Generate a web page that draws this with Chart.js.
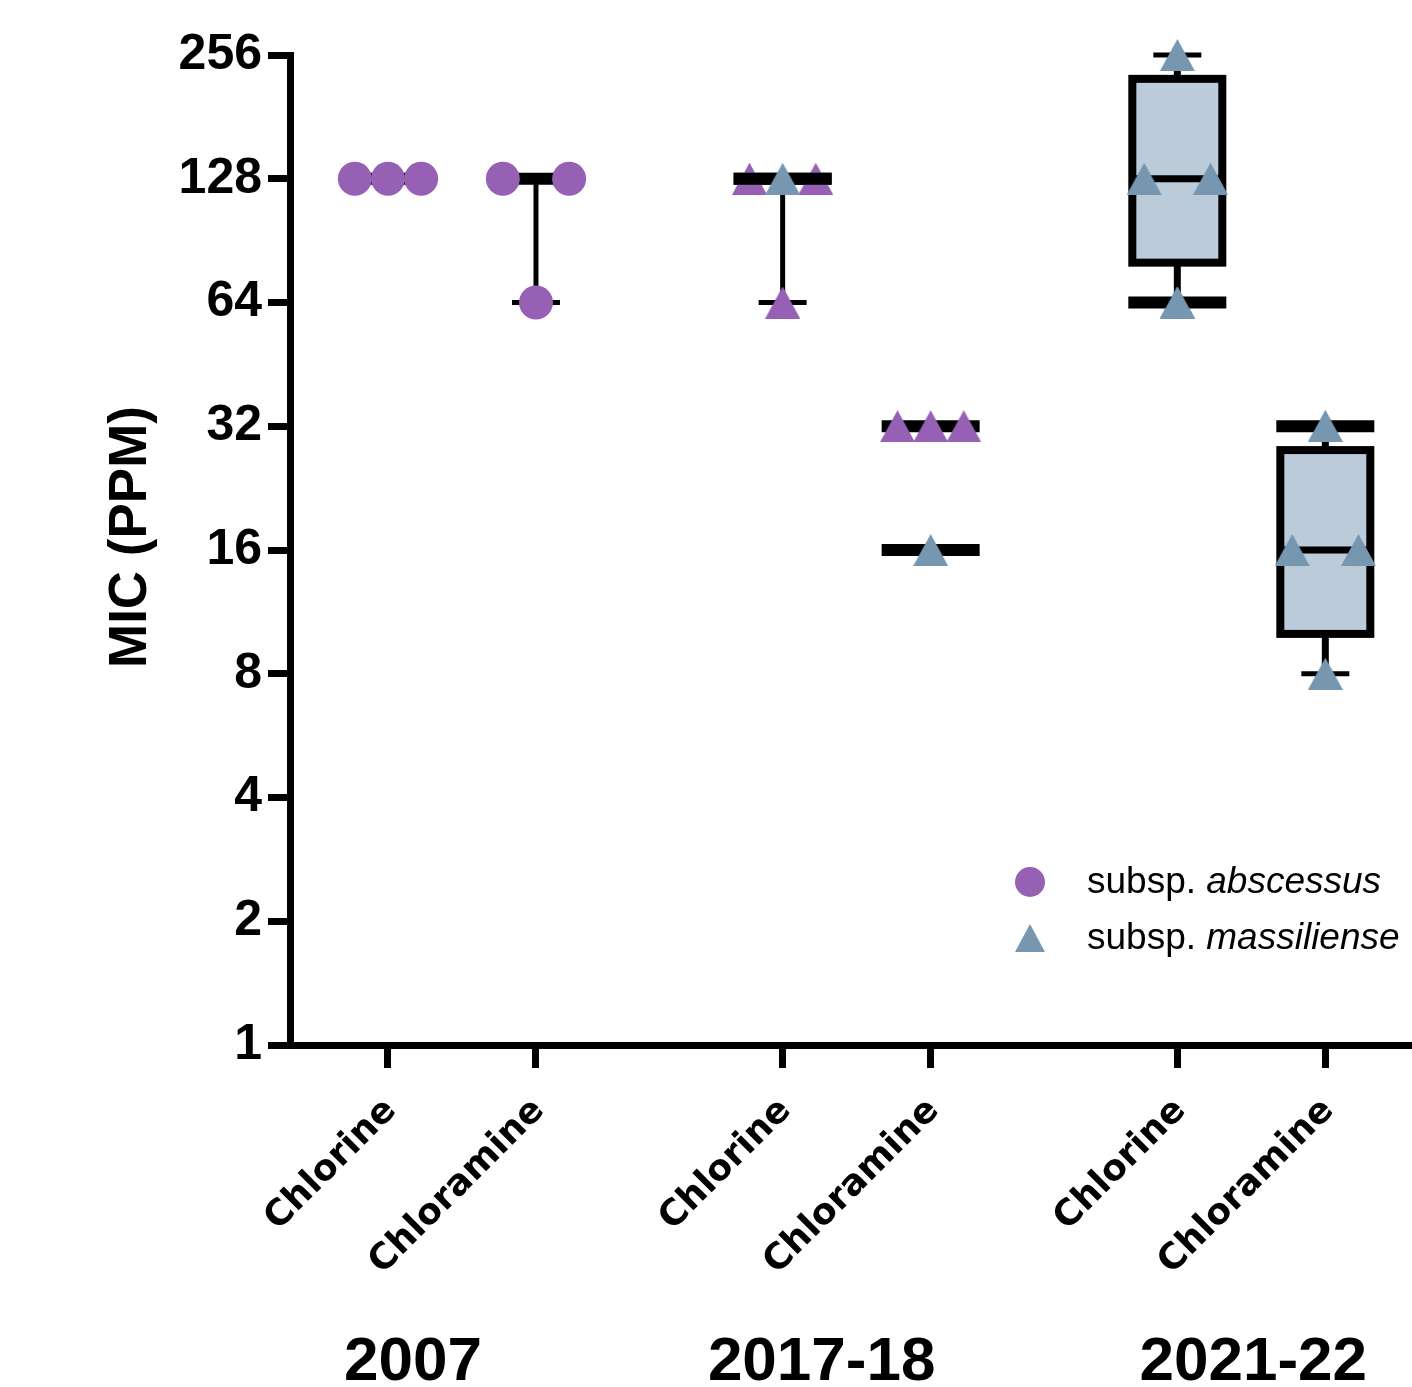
<!DOCTYPE html>
<html>
<head>
<meta charset="utf-8">
<script src="https://cdn.jsdelivr.net/npm/chart.js@4.4.1/dist/chart.umd.min.js"></script>
<style>
  html, body { margin: 0; padding: 0; background: #ffffff; }
  canvas { display: block; }
</style>
</head>
<body>
<canvas id="mic" width="1412" height="1387"></canvas>
<script>
// ---- categories and tick labels ----
const groups = ['2007', '2017-18', '2021-22'];
const treatments = ['Chlorine', 'Chloramine'];
const yTicks = [1, 2, 4, 8, 16, 32, 64, 128, 256];
const subspecies = ['abscessus', 'massiliense'];

// ---- MIC values (ppm), one array per isolate set ----
const mic2007ChlorineAbs = [128, 128, 128];
const mic2007ChloramineAbs = [128, 64, 128];
const mic2017ChlorineAbs = [128, 128, 64];
const mic2017ChlorineMas = [128];
const mic2017ChloramineAbs = [32, 32, 32];
const mic2017ChloramineMas = [16];
const mic2021ChlorineMas = [256, 128, 128, 64];
const mic2021ChlorineMasSingle = [64];
const mic2021ChloramineMas = [32, 16, 16, 8];
const mic2021ChloramineMasSingle = [32];

// isolate sets: group index, treatment index, subspecies index, summary type
const series = [
  { g: 0, t: 0, sp: 0, values: mic2007ChlorineAbs, summary: 'median' },
  { g: 0, t: 1, sp: 0, values: mic2007ChloramineAbs, summary: 'median' },
  { g: 1, t: 0, sp: 0, values: mic2017ChlorineAbs, summary: 'median' },
  { g: 1, t: 0, sp: 1, values: mic2017ChlorineMas, summary: 'median' },
  { g: 1, t: 1, sp: 0, values: mic2017ChloramineAbs, summary: 'median' },
  { g: 1, t: 1, sp: 1, values: mic2017ChloramineMas, summary: 'median' },
  { g: 2, t: 0, sp: 1, values: mic2021ChlorineMas, summary: 'box' },
  { g: 2, t: 0, sp: 1, values: mic2021ChlorineMasSingle, summary: 'median' },
  { g: 2, t: 1, sp: 1, values: mic2021ChloramineMas, summary: 'box' },
  { g: 2, t: 1, sp: 1, values: mic2021ChloramineMasSingle, summary: 'median' }
];

// ---- styling / layout ----
const FONT = "'Liberation Sans', Arial, Helvetica, sans-serif";
const LABEL_FONT = "'DejaVu Sans', Verdana, sans-serif";
const COLORS = ['#9660b4', '#7797b1'];
const BOX_FILL = '#bccbd9';
const GROUP_MARKER = ['circle', 'triangle', 'triangle'];
const GROUP_STEP = 8 / 3;          // x distance between year groups
const JITTER = 0.224;              // x offset between tied points
const GROUP_LABEL_NUDGE = [-49, -35, 2];
const AXIS_W = 7;

const colX = (g, t) => g * GROUP_STEP + t;
const columnX = [];
groups.forEach((_, g) => treatments.forEach((_, t) => columnX.push(colX(g, t))));

// triangle marker, centred on its bounding box
function makeTriangle(w, h, color) {
  const c = document.createElement('canvas');
  c.width = w; c.height = h;
  const x = c.getContext('2d');
  x.fillStyle = color;
  x.beginPath();
  x.moveTo(w / 2, 0);
  x.lineTo(w, h);
  x.lineTo(0, h);
  x.closePath();
  x.fill();
  return c;
}
const triangles = COLORS.map(c => makeTriangle(35, 32, c));

// spread tied values side by side
function jittered(values) {
  const counts = {}, seen = {};
  values.forEach(v => { counts[v] = (counts[v] || 0) + 1; });
  return values.map(v => {
    const n = counts[v];
    const k = seen[v] = (seen[v] || 0) + 1;
    let off;
    if (n === 1) off = 0;
    else if (n === 2) off = k === 1 ? -1 : 1;
    else off = (k - 1) - (n - 1) / 2;
    return off;
  });
}

// percentile on the (n+1) basis
function quantile(sorted, p) {
  const n = sorted.length;
  const pos = (n + 1) * p;
  if (pos <= 1) return sorted[0];
  if (pos >= n) return sorted[n - 1];
  const lo = Math.floor(pos), f = pos - lo;
  return sorted[lo - 1] + f * (sorted[lo] - sorted[lo - 1]);
}

const datasets = series.map((s, i) => {
  const offs = jittered(s.values);
  const marker = GROUP_MARKER[s.g];
  return {
    label: subspecies[s.sp],
    data: s.values.map((v, j) => ({ x: colX(s.g, s.t) + offs[j] * JITTER, y: v })),
    pointStyle: marker === 'circle' ? 'circle' : triangles[s.sp],
    pointRadius: 17,
    pointHoverRadius: 17,
    pointBackgroundColor: COLORS[s.sp],
    pointBorderWidth: 0,
    showLine: false,
    clip: false,
    order: -i
  };
});

function drawSummary(chart, s) {
  const ctx = chart.ctx;
  const xs = chart.scales.x, ys = chart.scales.y;
  const cx = xs.getPixelForValue(colX(s.g, s.t));
  const Y = v => ys.getPixelForValue(v);
  const v = [...s.values].sort((a, b) => a - b);
  const lo = v[0], hi = v[v.length - 1];
  ctx.save();
  ctx.strokeStyle = '#000';
  ctx.lineCap = 'butt';
  const hline = (val, half, w) => {
    ctx.lineWidth = w;
    ctx.beginPath();
    ctx.moveTo(cx - half, Y(val));
    ctx.lineTo(cx + half, Y(val));
    ctx.stroke();
  };
  const vline = (a, b, w) => {
    ctx.lineWidth = w;
    ctx.beginPath();
    ctx.moveTo(cx, Y(a));
    ctx.lineTo(cx, Y(b));
    ctx.stroke();
  };
  if (s.summary === 'median') {
    if (hi > lo) {
      vline(lo, hi, 5);
      hline(lo, 24, 5);
      hline(hi, 24, 5);
    }
    hline(quantile(v, 0.5), 49, 12);
  } else {
    const q1 = quantile(v, 0.25), q3 = quantile(v, 0.75), med = quantile(v, 0.5);
    vline(hi, q3, 7);
    vline(q1, lo, 7);
    hline(hi, 24, 5);
    hline(lo, 24, 5);
    const top = Y(q3), bot = Y(q1);
    ctx.fillStyle = BOX_FILL;
    ctx.fillRect(cx - 45, top, 90, bot - top);
    ctx.lineWidth = 8;
    ctx.strokeRect(cx - 45, top, 90, bot - top);
    hline(med, 45, 7);
  }
  ctx.restore();
}

function drawLegendMarker(ctx, kind, x, y, color) {
  ctx.fillStyle = color;
  ctx.beginPath();
  if (kind === 'circle') {
    ctx.arc(x, y, 15, 0, Math.PI * 2);
  } else {
    ctx.moveTo(x, y - 14);
    ctx.lineTo(x + 15, y + 14);
    ctx.lineTo(x - 15, y + 14);
    ctx.closePath();
  }
  ctx.fill();
}

const decorPlugin = {
  id: 'decor',
  beforeDatasetDraw(chart, args) {
    drawSummary(chart, series[args.index]);
  },
  afterDraw(chart) {
    const ctx = chart.ctx;
    const xs = chart.scales.x;
    const area = chart.chartArea;
    ctx.save();
    ctx.fillStyle = '#000';

    // axis title
    ctx.save();
    ctx.translate(131, 537);
    ctx.rotate(-Math.PI / 2);
    ctx.font = `bold 53px ${FONT}`;
    ctx.textAlign = 'center';
    ctx.textBaseline = 'middle';
    ctx.fillText('MIC (PPM)', 0, 0);
    ctx.restore();

    // treatment labels, rotated
    ctx.font = `bold 36px ${LABEL_FONT}`;
    groups.forEach((_, g) => treatments.forEach((name, t) => {
      const px = xs.getPixelForValue(colX(g, t));
      ctx.save();
      ctx.translate(px + 3, area.bottom + 60);
      ctx.rotate(-Math.PI / 4);
      ctx.textAlign = 'right';
      ctx.textBaseline = 'middle';
      ctx.fillText(name, 0, 0);
      ctx.restore();
    }));

    // year labels
    ctx.font = `bold 62px ${FONT}`;
    ctx.textAlign = 'center';
    ctx.textBaseline = 'alphabetic';
    groups.forEach((name, g) => {
      const mid = (xs.getPixelForValue(colX(g, 0)) + xs.getPixelForValue(colX(g, 1))) / 2;
      ctx.fillText(name, mid + GROUP_LABEL_NUDGE[g], 1380);
    });

    // legend
    const legendRows = [
      { kind: 'circle', color: COLORS[0], name: subspecies[0], y: 882 },
      { kind: 'triangle', color: COLORS[1], name: subspecies[1], y: 938 }
    ];
    ctx.textAlign = 'left';
    ctx.textBaseline = 'middle';
    legendRows.forEach(r => {
      drawLegendMarker(ctx, r.kind, 1030, r.y, r.color);
      ctx.fillStyle = '#000';
      ctx.font = `37px ${FONT}`;
      const pre = 'subsp. ';
      ctx.fillText(pre, 1087, r.y + 1);
      const w = ctx.measureText(pre).width;
      ctx.font = `italic 37px ${FONT}`;
      ctx.fillText(r.name, 1087 + w, r.y + 1);
    });
    ctx.restore();
  }
};

new Chart(document.getElementById('mic'), {
  type: 'scatter',
  data: { datasets },
  options: {
    responsive: false,
    animation: false,
    events: [],
    layout: { autoPadding: false, padding: { top: 55, right: 0, bottom: 0, left: 0 } },
    plugins: { legend: { display: false }, tooltip: { enabled: false } },
    scales: {
      x: {
        type: 'linear',
        min: -0.662,
        max: 6.919,
        afterBuildTicks: s => { s.ticks = columnX.map(v => ({ value: v })); },
        ticks: { display: false },
        grid: { drawOnChartArea: false, drawTicks: true, tickLength: 23, tickWidth: AXIS_W, tickColor: '#000' },
        border: { display: true, width: AXIS_W, color: '#000' },
        afterFit: s => { s.height = 342; }
      },
      y: {
        type: 'logarithmic',
        min: 1,
        max: 256,
        afterBuildTicks: s => { s.ticks = yTicks.map(v => ({ value: v })); },
        ticks: {
          autoSkip: false,
          callback: v => String(v),
          color: '#000',
          padding: 6,
          font: { family: FONT, size: 50, weight: 'bold' }
        },
        grid: { drawOnChartArea: false, drawTicks: true, tickLength: 22, tickWidth: AXIS_W, tickColor: '#000' },
        border: { display: true, width: AXIS_W, color: '#000' },
        afterFit: s => { s.width = 290; }
      }
    }
  },
  plugins: [decorPlugin]
});
</script>
</body>
</html>
